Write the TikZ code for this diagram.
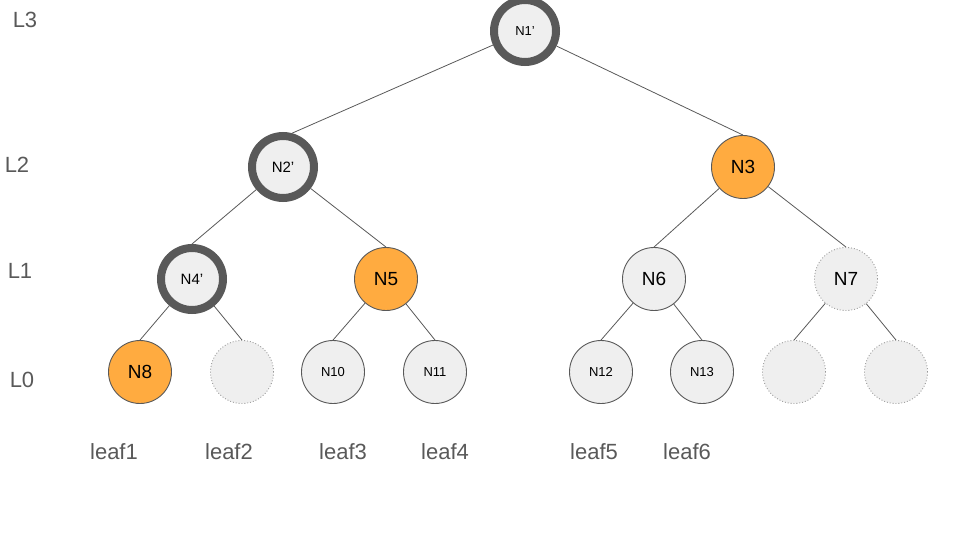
\documentclass[tikz,border=0pt]{standalone}
\usepackage{fontspec}
\setmainfont{Liberation Sans}
\begin{document}
\begin{tikzpicture}[x=1pt,y=-1pt,
  base/.style={circle, minimum size=63pt, inner sep=0pt, fill=nodegray, draw=edgegray, line width=0.9pt, text=black, font=\fontsize{19}{21}\selectfont},
  small/.style={font=\fontsize{13}{15}\selectfont},
  thick ring/.style={base, draw=ringgray, line width=8pt, minimum size=62pt, font=\fontsize{15}{17}\selectfont},
  hot/.style={base, fill=hotorange},
  ghost/.style={base, draw=ghostgray, dotted, line width=0.9pt},
  lvl/.style={text=labelgray, font=\fontsize{22}{24}\selectfont, inner sep=0pt},
  edge/.style={draw=edgegray, line width=0.8pt}]
\definecolor{nodegray}{HTML}{EFEFEF}
\definecolor{edgegray}{HTML}{595959}
\definecolor{ringgray}{HTML}{595959}
\definecolor{hotorange}{HTML}{FFAB40}
\definecolor{ghostgray}{HTML}{999999}
\definecolor{labelgray}{HTML}{595959}
\useasboundingbox (0,0) rectangle (960,540);
% nodes
\node[thick ring, font=\fontsize{13}{15}\selectfont] (n1) at (525,31) {N1’};
\node[thick ring] (n2) at (283,167) {N2’};
\node[hot] (n3) at (743,167) {N3};
\node[thick ring] (n4) at (192,279) {N4’};
\node[hot] (n5) at (386,279) {N5};
\node[base] (n6) at (654,279) {N6};
\node[ghost] (n7) at (846,279) {N7};
\node[hot] (n8) at (140,372) {N8};
\node[ghost] (n9) at (242,372) {};
\node[base, small] (n10) at (333,372) {N10};
\node[base, small] (n11) at (435,372) {N11};
\node[base, small] (n12) at (601,372) {N12};
\node[base, small] (n13) at (702,372) {N13};
\node[ghost] (n14) at (794,372) {};
\node[ghost] (n15) at (896,372) {};
% edges
\draw[edge] (n1) -- (n2.75);
\draw[edge] (n1) -- (n3.north);
\draw[edge] (n2) -- (n4.north);
\draw[edge] (n2) -- (n5.north);
\draw[edge] (n3) -- (n6.north);
\draw[edge] (n3) -- (n7.north);
\draw[edge] (n4) -- (n8.north);
\draw[edge] (n4) -- (n9.north);
\draw[edge] (n5) -- (n10.north);
\draw[edge] (n5) -- (n11.north);
\draw[edge] (n6) -- (n12.north);
\draw[edge] (n6) -- (n13.north);
\draw[edge] (n7) -- (n14.north);
\draw[edge] (n7) -- (n15.north);
% level labels
\node[lvl] (l3) at (25,20) {L3};
\node[lvl] (l2) at (17,165) {L2};
\node[lvl] (l1) at (20,271) {L1};
\node[lvl] (l0) at (22,380) {L0};
% leaf labels
\node[lvl] (f1) at (114,452) {leaf1};
\node[lvl] (f2) at (229,452) {leaf2};
\node[lvl] (f3) at (343,452) {leaf3};
\node[lvl] (f4) at (445,452) {leaf4};
\node[lvl] (f5) at (594,452) {leaf5};
\node[lvl] (f6) at (687,452) {leaf6};
\end{tikzpicture}
\end{document}
